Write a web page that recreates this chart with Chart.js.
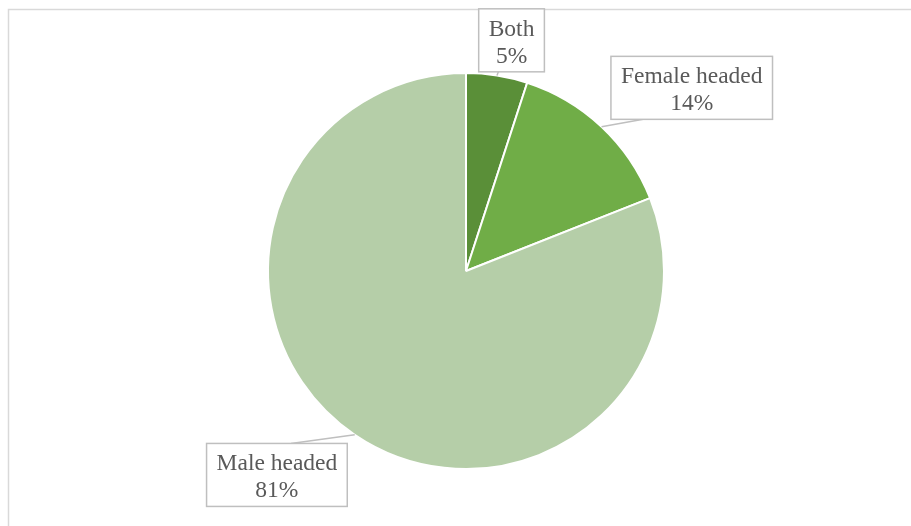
<!DOCTYPE html>
<html>
<head>
<meta charset="utf-8">
<script src="https://cdn.jsdelivr.net/npm/chart.js@4/dist/chart.umd.min.js"></script>
<style>
  html, body { margin: 0; padding: 0; background: #fff; }
  #wrap { width: 911px; height: 526px; position: relative; }
</style>
</head>
<body>
<div id="wrap"><canvas id="grafico" width="911" height="526"></canvas></div>
<script>
// dados
const categorias = ["Both", "Female headed", "Male headed"];
const valores = [5, 14, 81];
const cores = ["#5a8f38", "#70ad47", "#b5cea8"];

// posição das caixas (em raios, a partir do centro) e ponto de ligação na caixa
const caixaPos = [
  { dx: 0.23, dy: -1.165, ligaX: 0.3, lado: "bottom" },
  { dx: 1.14, dy: -0.925, ligaX: 0.2, lado: "bottom" },
  { dx: -0.955, dy: 1.03, ligaX: 0.6, lado: "top" }
];

const fonte = "23.5px 'Liberation Serif', 'Times New Roman', serif";

// moldura em volta do gráfico
const molduraPlugin = {
  id: "moldura",
  beforeDraw(chart) {
    const ctx = chart.ctx;
    ctx.save();
    ctx.strokeStyle = "#d9d9d9";
    ctx.lineWidth = 1.5;
    ctx.beginPath();
    ctx.moveTo(8.5, 530);
    ctx.lineTo(8.5, 9.5);
    ctx.lineTo(915, 9.5);
    ctx.stroke();
    ctx.restore();
  }
};

// rótulos com caixa e linha de chamada
const rotulosPlugin = {
  id: "rotulos",
  afterDatasetsDraw(chart) {
    const ctx = chart.ctx;
    const meta = chart.getDatasetMeta(0);
    const total = valores.reduce((a, b) => a + b, 0);
    ctx.save();
    ctx.font = fonte;
    meta.data.forEach((arc, i) => {
      const p = arc.getProps(["x", "y", "startAngle", "endAngle", "outerRadius"], true);
      const meio = (p.startAngle + p.endAngle) / 2;
      const R = p.outerRadius;
      const bx = p.x + caixaPos[i].dx * R;
      const by = p.y + caixaPos[i].dy * R;
      const linha1 = categorias[i];
      const linha2 = Math.round(valores[i] / total * 100) + "%";
      const w = Math.max(ctx.measureText(linha1).width, ctx.measureText(linha2).width) + 20;
      const h = 63;
      const esq = bx - w / 2, topo = by - h / 2;

      // linha de chamada
      const ex = p.x + Math.cos(meio) * R;
      const ey = p.y + Math.sin(meio) * R;
      const tx = esq + w * caixaPos[i].ligaX;
      const ty = caixaPos[i].lado === "bottom" ? topo + h : topo;
      ctx.strokeStyle = "#bfbfbf";
      ctx.lineWidth = 1.5;
      ctx.beginPath();
      ctx.moveTo(ex, ey);
      ctx.lineTo(tx, ty);
      ctx.stroke();

      // caixa
      ctx.fillStyle = "#ffffff";
      ctx.fillRect(esq, topo, w, h);
      ctx.strokeRect(esq, topo, w, h);

      // texto
      ctx.fillStyle = "#595959";
      ctx.textAlign = "center";
      ctx.textBaseline = "alphabetic";
      ctx.fillText(linha1, bx, topo + 27);
      ctx.fillText(linha2, bx, topo + 54);
    });
    ctx.restore();
  }
};

const ctx = document.getElementById("grafico").getContext("2d");
new Chart(ctx, {
  type: "pie",
  data: {
    labels: categorias,
    datasets: [{
      data: valores,
      backgroundColor: cores,
      borderColor: "#ffffff",
      borderWidth: 2
    }]
  },
  options: {
    responsive: false,
    animation: false,
    layout: { padding: { left: 267, right: 246, top: 72, bottom: 56 } },
    plugins: {
      legend: { display: false },
      tooltip: { enabled: false }
    }
  },
  plugins: [molduraPlugin, rotulosPlugin]
});
</script>
</body>
</html>
